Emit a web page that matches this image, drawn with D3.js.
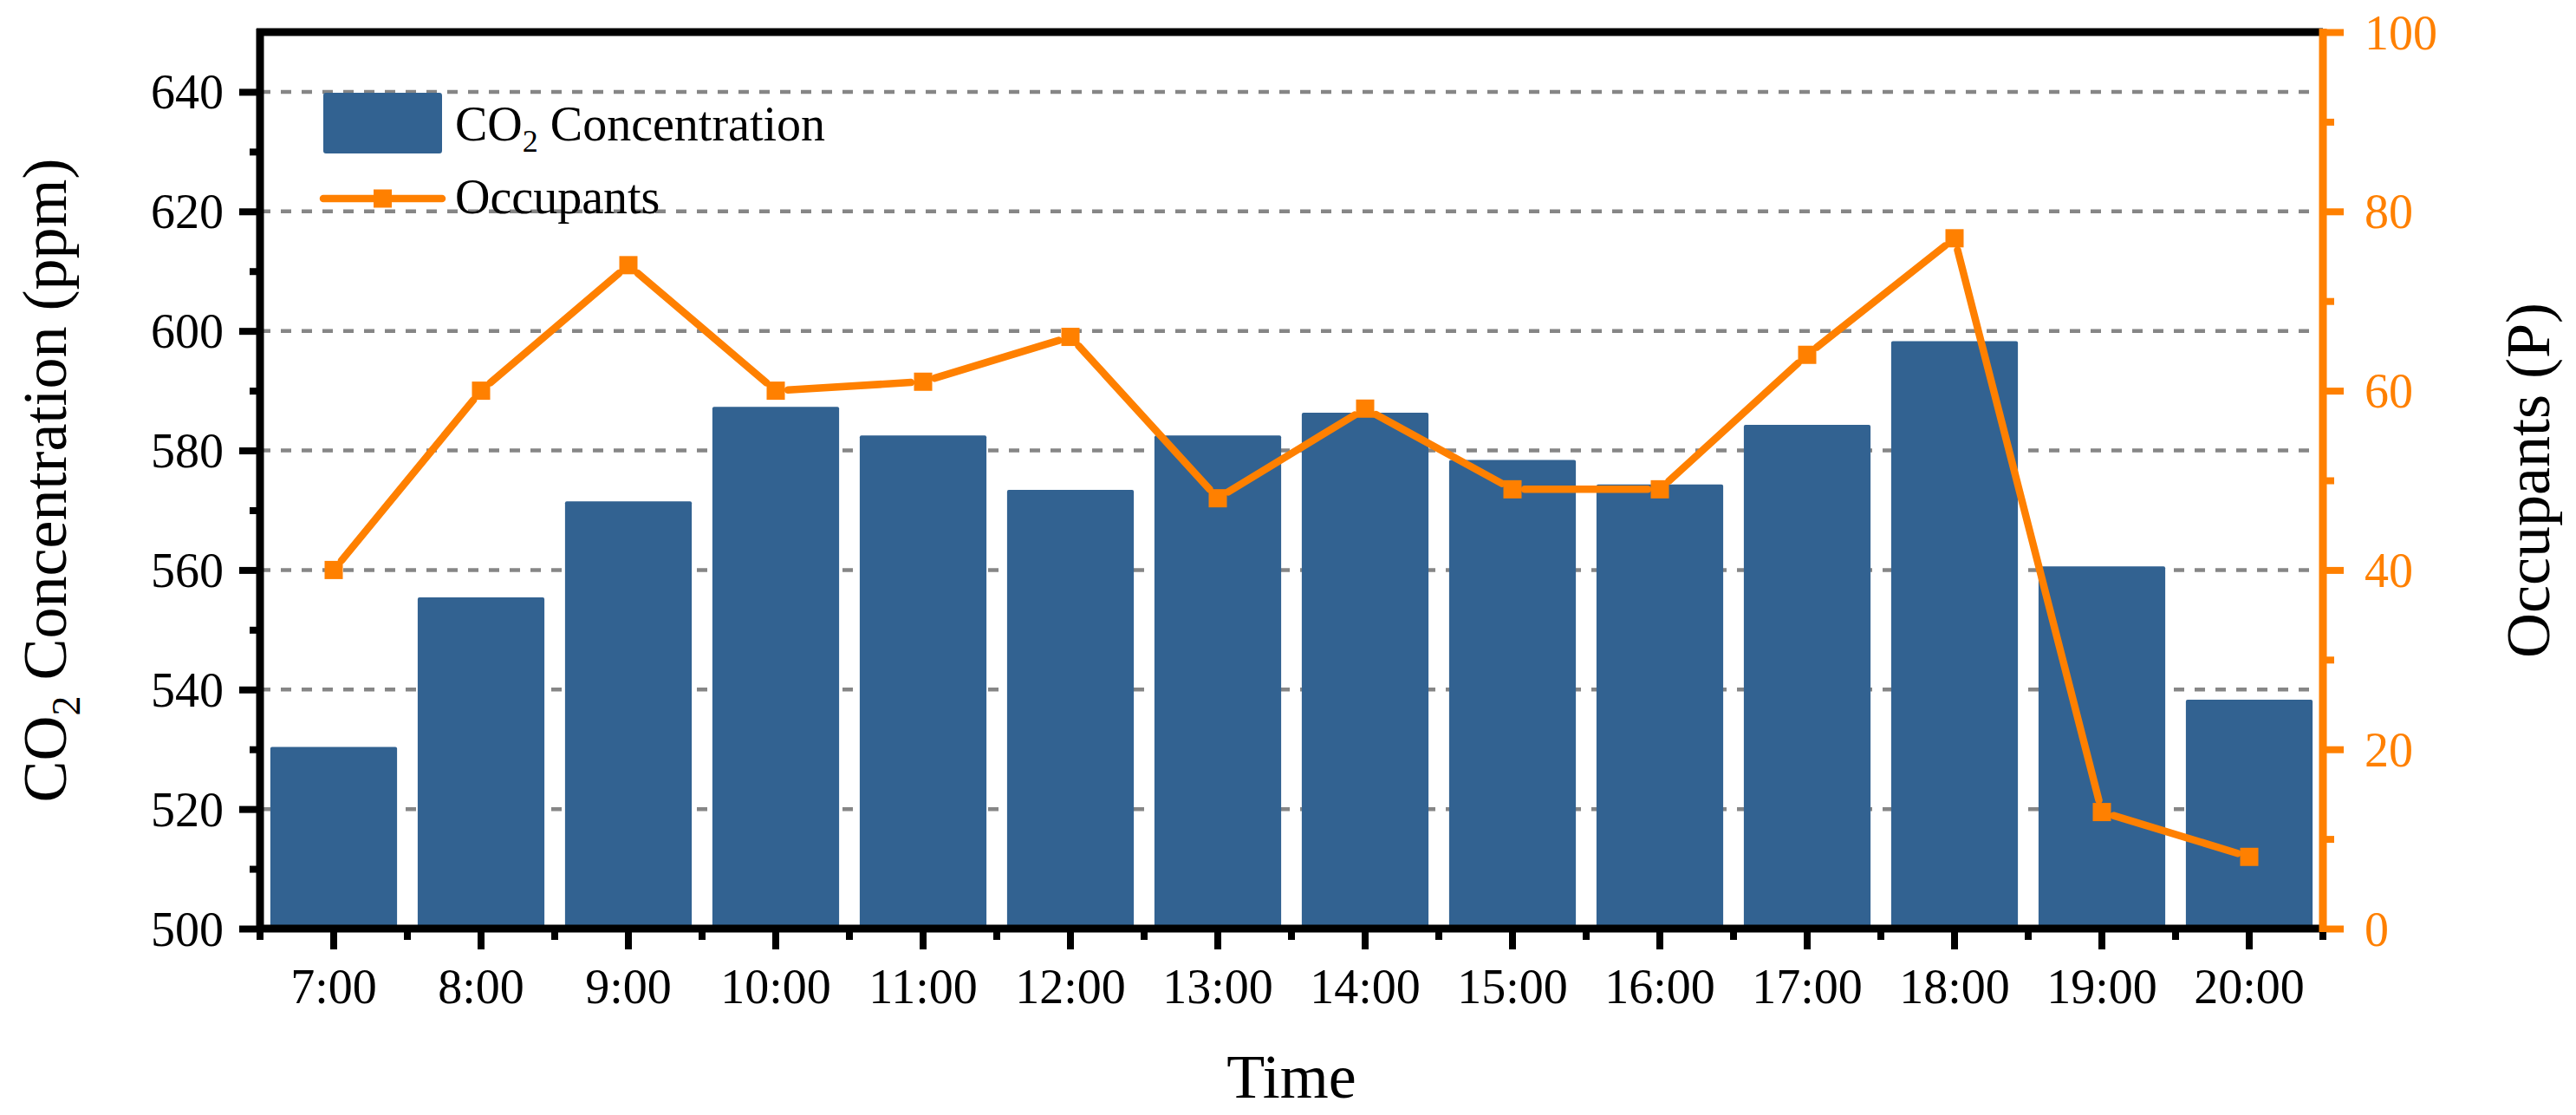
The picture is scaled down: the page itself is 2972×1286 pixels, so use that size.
<!DOCTYPE html>
<html>
<head>
<meta charset="utf-8">
<script src="https://cdn.jsdelivr.net/npm/d3@7"></script>
<style>
    body { margin: 0; background: #fff; }
    text { font-family: "Liberation Serif", "Times New Roman", serif; }
</style>
</head>
<body>
<div id="chart"></div>
<script>
// data
const hours = ["7:00", "8:00", "9:00", "10:00", "11:00", "12:00", "13:00",
    "14:00", "15:00", "16:00", "17:00", "18:00", "19:00", "20:00"];
const co2Values = [530.4, 555.4, 571.5, 587.3, 582.5, 573.4, 582.5,
    586.3, 578.4, 574.3, 584.3, 598.3, 560.6, 538.3];
const occupantValues = [40, 60, 74, 60, 61, 66, 48, 58, 49, 49, 64, 77, 13, 8];
const co2Ticks = [500, 520, 540, 560, 580, 600, 620, 640];
const co2MinorTicks = [510, 530, 550, 570, 590, 610, 630];
const occTicks = [0, 20, 40, 60, 80, 100];
const occMinorTicks = [10, 30, 50, 70, 90];

class DualAxisChart {

    constructor(_config) {
        this.config = {
            parentElement: _config.parentElement,
            containerWidth: 2972,
            containerHeight: 1286,
            margin: {top: 37, right: 292, bottom: 215, left: 300}
        }
        this.initVis();
    }

    initVis() {
        let vis = this;
        const m = vis.config.margin;
        vis.width = vis.config.containerWidth - m.left - m.right;
        vis.height = vis.config.containerHeight - m.top - m.bottom;

        vis.orange = "#FF8000";
        vis.blue = "#326291";

        vis.svg = d3.select(vis.config.parentElement).append("svg")
            .attr("width", vis.config.containerWidth)
            .attr("height", vis.config.containerHeight);

        vis.svg.append("rect")
            .attr("width", vis.config.containerWidth)
            .attr("height", vis.config.containerHeight)
            .attr("fill", "#fff");

        vis.chart = vis.svg.append("g")
            .attr("transform", `translate(${m.left},${m.top})`);

        vis.xScale = d3.scaleBand()
            .domain(hours)
            .range([0, vis.width])
            .paddingInner(0.14)
            .paddingOuter(0.07);

        vis.yLeft = d3.scaleLinear().domain([500, 650]).range([vis.height, 0]);
        vis.yRight = d3.scaleLinear().domain([0, 100]).range([vis.height, 0]);

        vis.renderVis();
    }

    renderVis() {
        let vis = this;
        const h = vis.height, w = vis.width;

        // dashed grid lines
        vis.chart.append("g")
            .selectAll("line")
            .data(co2Ticks.filter(d => d > 500))
            .join("line")
            .attr("x1", 0).attr("x2", w)
            .attr("y1", d => vis.yLeft(d)).attr("y2", d => vis.yLeft(d))
            .attr("stroke", "#868686")
            .attr("stroke-width", 4.5)
            .attr("stroke-dasharray", "12,12");

        // bars
        vis.chart.append("g")
            .selectAll("rect")
            .data(co2Values)
            .join("rect")
            .attr("x", (d, i) => vis.xScale(hours[i]))
            .attr("width", vis.xScale.bandwidth())
            .attr("y", d => vis.yLeft(d))
            .attr("height", d => h - vis.yLeft(d))
            .attr("rx", 2)
            .attr("fill", vis.blue);

        // occupants line, segments with a small gap round the markers
        const pts = occupantValues.map((d, i) => [
            vis.xScale(hours[i]) + vis.xScale.bandwidth() / 2, vis.yRight(d)]);
        const segs = d3.pairs(pts).map(([a, b]) => {
            const dx = b[0] - a[0], dy = b[1] - a[1];
            const len = Math.hypot(dx, dy), g = 14;
            return [a[0] + dx * g / len, a[1] + dy * g / len, b[0] - dx * g / len, b[1] - dy * g / len];
        });
        vis.chart.append("g")
            .selectAll("line")
            .data(segs)
            .join("line")
            .attr("x1", d => d[0]).attr("y1", d => d[1])
            .attr("x2", d => d[2]).attr("y2", d => d[3])
            .attr("stroke", vis.orange)
            .attr("stroke-width", 8.5)
            .attr("stroke-linecap", "round");

        const ms = 21;
        vis.chart.append("g")
            .selectAll("rect")
            .data(pts)
            .join("rect")
            .attr("x", d => d[0] - ms / 2)
            .attr("y", d => d[1] - ms / 2)
            .attr("width", ms).attr("height", ms)
            .attr("fill", vis.orange);

        // left axis
        const leftAxis = vis.chart.append("g")
            .call(d3.axisLeft(vis.yLeft).tickValues(co2Ticks).tickSize(24).tickSizeOuter(0).tickPadding(18));
        leftAxis.select(".domain").remove();
        leftAxis.selectAll("line").attr("stroke", "#000").attr("stroke-width", 8);
        leftAxis.selectAll("text")
            .attr("font-size", 56).attr("font-family", "Liberation Serif").attr("fill", "#000")
            .attr("dy", "0.34em");
        vis.chart.append("g")
            .call(d3.axisLeft(vis.yLeft).tickValues(co2MinorTicks).tickSize(12).tickFormat(""))
            .call(g => g.select(".domain").remove())
            .selectAll("line").attr("stroke", "#000").attr("stroke-width", 8);

        // right axis
        const rightAxis = vis.chart.append("g")
            .attr("transform", `translate(${w},0)`)
            .call(d3.axisRight(vis.yRight).tickValues(occTicks).tickSize(24).tickSizeOuter(0).tickPadding(24));
        rightAxis.select(".domain").remove();
        rightAxis.selectAll("line").attr("stroke", vis.orange).attr("stroke-width", 8);
        rightAxis.selectAll("text")
            .attr("font-size", 56).attr("font-family", "Liberation Serif").attr("fill", vis.orange)
            .attr("dy", "0.34em");
        vis.chart.append("g")
            .attr("transform", `translate(${w},0)`)
            .call(d3.axisRight(vis.yRight).tickValues(occMinorTicks).tickSize(13).tickFormat(""))
            .call(g => g.select(".domain").remove())
            .selectAll("line").attr("stroke", vis.orange).attr("stroke-width", 8);

        // bottom axis
        const bottomAxis = vis.chart.append("g")
            .attr("transform", `translate(0,${h})`)
            .call(d3.axisBottom(vis.xScale).tickSize(24).tickSizeOuter(0).tickPadding(22));
        bottomAxis.select(".domain").remove();
        bottomAxis.selectAll("line").attr("stroke", "#000").attr("stroke-width", 8);
        bottomAxis.selectAll("text")
            .attr("font-size", 56).attr("font-family", "Liberation Serif").attr("fill", "#000");
        const step = vis.xScale.step();
        const edges = d3.range(hours.length + 1).map(i => vis.xScale(hours[0]) - step * 0.07 + i * step);
        vis.chart.append("g")
            .selectAll("line")
            .data(edges)
            .join("line")
            .attr("x1", d => d).attr("x2", d => d)
            .attr("y1", h).attr("y2", h + 13)
            .attr("stroke", "#000").attr("stroke-width", 8);

        // frame
        vis.chart.append("line").attr("x1", -4).attr("x2", w).attr("y1", 0).attr("y2", 0)
            .attr("stroke", "#000").attr("stroke-width", 9);
        vis.chart.append("line").attr("x1", -4).attr("x2", w).attr("y1", h).attr("y2", h)
            .attr("stroke", "#000").attr("stroke-width", 9);
        vis.chart.append("line").attr("x1", 0).attr("x2", 0).attr("y1", -4).attr("y2", h + 4)
            .attr("stroke", "#000").attr("stroke-width", 9);
        vis.chart.append("line").attr("x1", w).attr("x2", w).attr("y1", -4).attr("y2", h + 4)
            .attr("stroke", vis.orange).attr("stroke-width", 9);

        // axis titles
        vis.svg.append("text")
            .attr("x", vis.config.margin.left + w / 2)
            .attr("y", 1266)
            .attr("text-anchor", "middle")
            .attr("font-size", 72)
            .text("Time");

        const leftTitle = vis.svg.append("text")
            .attr("transform", `translate(76,${vis.config.margin.top + h / 2}) rotate(-90)`)
            .attr("text-anchor", "middle")
            .attr("font-size", 72);
        leftTitle.append("tspan").text("CO");
        leftTitle.append("tspan").attr("font-size", 46).attr("dy", 16).text("2");
        leftTitle.append("tspan").attr("dy", -16).text(" Concentration (ppm)");

        vis.svg.append("text")
            .attr("transform", `translate(2941,${vis.config.margin.top + h / 2}) rotate(-90)`)
            .attr("text-anchor", "middle")
            .attr("font-size", 72)
            .text("Occupants (P)");

        // legend
        const legend = vis.chart.append("g").attr("transform", "translate(73,70)");
        legend.append("rect")
            .attr("x", 0).attr("y", 0).attr("width", 137).attr("height", 70)
            .attr("rx", 3).attr("fill", vis.blue);
        const lt = legend.append("text")
            .attr("x", 152).attr("y", 55)
            .attr("font-size", 56);
        lt.append("tspan").text("CO");
        lt.append("tspan").attr("font-size", 36).attr("dy", 13).text("2");
        lt.append("tspan").attr("dy", -13).text(" Concentration");

        legend.append("line")
            .attr("x1", 0).attr("x2", 137).attr("y1", 122).attr("y2", 122)
            .attr("stroke", vis.orange).attr("stroke-width", 8.5).attr("stroke-linecap", "round");
        legend.append("rect")
            .attr("x", 68.5 - ms / 2).attr("y", 122 - ms / 2)
            .attr("width", ms).attr("height", ms)
            .attr("fill", vis.orange);
        legend.append("text")
            .attr("x", 152).attr("y", 139)
            .attr("font-size", 56)
            .text("Occupants");
    }
}

new DualAxisChart({parentElement: "#chart"});
</script>
</body>
</html>
